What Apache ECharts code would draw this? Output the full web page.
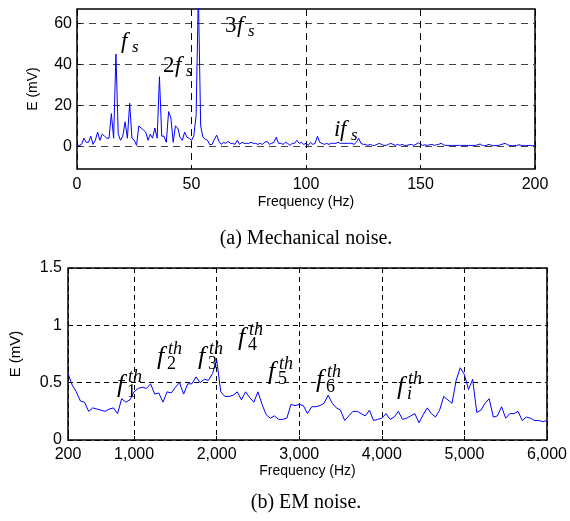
<!DOCTYPE html>
<html><head><meta charset="utf-8">
<script src="https://cdn.jsdelivr.net/npm/echarts@6/dist/echarts.min.js"></script>
<style>html,body{margin:0;padding:0;background:#fff}#c{width:570px;height:521px}</style>
</head><body><div id="c"></div>
<script>
// ---- (a) Mechanical noise: 1 Hz spectrum from 0 to 200 Hz ----
const mechFreqStart = 0;
const mechFreqStep = 1;
const mechValues = [
  0.5, 0.5, 1, 4, 2, 2, 5, 1, 3, 7,
  3, 6, 5, 4, 4, 16, 4, 45, 6, 3,
  5, 12, 4, 21, 4, 3, 0.5, 10, 9, 8,
  7, 3, 6, 4, 9, 4, 34, 5, 5, 2,
  17, 14, 2, 10, 9, 4.5, 3, 7, 4.5, 4,
  3, 5, 15, 75, 10, 4.5, 3.5, 3, 0.8, 1,
  3.5, 5.5, 2.5, 1, 2, 1.5, 2.5, 1.5, 1.5, 1,
  3, 1, 2, 1.5, 1.5, 1.5, 2, 1.5, 1.5, 1,
  1.5, 1, 2, 2.5, 1, 1.5, 2, 4.5, 1.5, 1.5,
  1, 2, 1.5, 0.5, 1.5, 1.5, 3, 1.5, 2, 1,
  1.5, 0.5, 2, 1, 1.5, 5, 2, 1.5, 1, 1.5,
  1, 1.5, 1.5, 1.5, 2, 1.5, 1.5, 1.5, 1.5, 1.5,
  1.5, 1, 2, 4, 1.5, 1, 1, 0.5, 1, 0.5,
  0.5, 1, 1.5, 1, 0.5, 0.5, 1, 1.5, 1, 0.5,
  1, 0.5, 1, 0.5, 0.5, 0.8, 1, 0.5, 1, 1.8,
  1, 0.5, 0.8, 0.5, 0.8, 1, 0.5, 0.8, 1, 1.6,
  0.8, 0.5, 0.5, 0.5, 0.5, 0.5, 0.5, 0.5, 0.5, 0.5,
  0.5, 0.5, 0.5, 0.5, 0.5, 0.8, 1.2, 0.5, 0.3, 0.6,
  1, 0.5, 0.3, 0.5, 0.5, 0.8, 1.2, 1.5, 0.8, 0.5,
  0.3, 0.5, 0.5, 0.8, 0.5, 0.5, 0.3, 0.5, 0.5, 0.3, 0.5
];
const mechXTicks = [0, 50, 100, 150, 200];
const mechYTicks = [0, 20, 40, 60];
const mechYRange = [-11, 67];

// ---- (b) EM noise: 50 Hz steps from 200 to 6000 Hz ----
const emFreqStart = 200;
const emFreqStep = 50;
const emValues = [
  0.58, 0.48, 0.42, 0.34, 0.33, 0.25, 0.28, 0.27, 0.26, 0.25, 0.27, 0.28, 0.23, 0.36, 0.33, 0.35, 0.42,
  0.45, 0.46, 0.45, 0.49, 0.40, 0.41, 0.33, 0.42, 0.41, 0.46, 0.50, 0.40, 0.49, 0.49, 0.55, 0.50, 0.53, 0.52, 0.58, 0.70,
  0.42, 0.38, 0.38, 0.39, 0.42, 0.35, 0.42, 0.37, 0.33, 0.42, 0.31, 0.22, 0.19, 0.21, 0.18, 0.18, 0.19, 0.31, 0.30, 0.31,
  0.30, 0.23, 0.29, 0.29, 0.30, 0.32, 0.39, 0.32, 0.28, 0.26, 0.17, 0.21, 0.25, 0.25, 0.23, 0.21, 0.26, 0.17, 0.18, 0.19,
  0.23, 0.18, 0.20, 0.25, 0.18, 0.19, 0.21, 0.23, 0.15, 0.22, 0.28, 0.23, 0.20, 0.26, 0.38, 0.35, 0.32, 0.52, 0.63, 0.57,
  0.44, 0.53, 0.24, 0.26, 0.32, 0.36, 0.20, 0.21, 0.29, 0.19, 0.23, 0.23, 0.25, 0.17, 0.20, 0.19, 0.17, 0.17, 0.16, 0.17
];
const emXTicks = [200, 1000, 2000, 3000, 4000, 5000, 6000];
const emYTicks = [0, 0.5, 1, 1.5];

// ---- texts ----
const yName = 'E (mV)';
const xName = 'Frequency (Hz)';
const captionA = '(a) Mechanical noise.';
const captionB = '(b) EM noise.';

const mechData = mechValues.map((v, i) => [mechFreqStart + i * mechFreqStep, v]);
const emData = emValues.map((v, i) => [emFreqStart + i * emFreqStep, v]);

const SANS = '"Liberation Sans", Arial, sans-serif';
const SERIF = '"Liberation Serif", "Times New Roman", serif';

function txt(x, y, text, font) {
  return { type: 'text', x: x, y: y, z: 100,
    style: { text: text, font: font, fill: '#000', textAlign: 'left', textVerticalAlign: 'middle', verticalAlign: 'middle' } };
}
// annotation: prefix (upright or italic), main italic f, subscript, superscript
function ann(x, y, opts) {
  const big = opts.big, small = opts.small;
  const kids = [];
  let cx = x;
  if (opts.pre) { kids.push(txt(cx, y, opts.pre, (opts.preItalic ? 'italic ' : '') + big + 'px ' + SERIF)); cx += opts.preW; }
  kids.push(txt(cx, y, 'f', 'italic ' + big + 'px ' + SERIF));
  const sx = cx + opts.fW;
  if (opts.sub) kids.push(txt(sx, y + opts.subDy, opts.sub, (opts.subItalic ? 'italic ' : '') + small + 'px ' + SERIF));
  if (opts.sup) kids.push(txt(sx + 1, y + opts.supDy, opts.sup, 'italic ' + small + 'px ' + SERIF));
  return kids;
}

const topAnn = { big: 23, small: 17, fW: 11, subDy: 6 };
const botAnn = { big: 26, small: 18, fW: 10, subDy: 7, supDy: -8, subItalic: false };

let graphics = [];
graphics = graphics.concat(
  ann(121, 42, Object.assign({}, topAnn, { sub: 's', subItalic: true })),
  ann(163, 66, Object.assign({}, topAnn, { pre: '2', preW: 12, sub: 's', subItalic: true })),
  ann(225, 26, Object.assign({}, topAnn, { pre: '3', preW: 12, sub: 's', subItalic: true })),
  ann(334, 130, Object.assign({}, topAnn, { pre: 'i', preW: 6, preItalic: true, sub: 's', subItalic: true })),
  ann(117, 385, Object.assign({}, botAnn, { sub: '1', sup: 'th' })),
  ann(157, 357, Object.assign({}, botAnn, { sub: '2', sup: 'th' })),
  ann(198, 357, Object.assign({}, botAnn, { sub: '3', sup: 'th' })),
  ann(238, 338, Object.assign({}, botAnn, { sub: '4', sup: 'th' })),
  ann(268, 372, Object.assign({}, botAnn, { sub: '5', sup: 'th' })),
  ann(316, 380, Object.assign({}, botAnn, { sub: '6', sup: 'th' })),
  ann(397, 387, Object.assign({}, botAnn, { sub: 'i', subItalic: true, sup: 'th' }))
);
graphics.push({ type: 'text', x: 306, y: 239, style: { text: captionA, font: '20px ' + SERIF, fill: '#000', textAlign: 'center', textVerticalAlign: 'middle', verticalAlign: 'middle' } });
graphics.push({ type: 'text', x: 306, y: 503, style: { text: captionB, font: '20px ' + SERIF, fill: '#000', textAlign: 'center', textVerticalAlign: 'middle', verticalAlign: 'middle' } });

const labelFont = { color: '#000', fontFamily: SANS, fontSize: 16 };
const nameFont = { color: '#000', fontFamily: SANS, fontSize: 14 };

const chart = echarts.init(document.getElementById('c'), null, { renderer: 'canvas' });
chart.setOption({
  animation: false,
  backgroundColor: '#fff',
  grid: [
    { left: 77, top: 9, width: 458, height: 160, show: true, borderColor: '#000', borderWidth: 1.5, backgroundColor: 'transparent' },
    { left: 68, top: 268, width: 479, height: 172, show: true, borderColor: '#000', borderWidth: 1.5, backgroundColor: 'transparent' }
  ],
  xAxis: [
    { type: 'value', gridIndex: 0, min: 0, max: 200, interval: 50,
      name: xName, nameLocation: 'middle', nameGap: 26, nameTextStyle: nameFont,
      axisLine: { show: false, onZero: false },
      axisTick: { show: true, inside: true, length: 4, lineStyle: { color: '#000' } },
      axisLabel: Object.assign({ margin: 8 }, labelFont),
      splitLine: { show: true, lineStyle: { color: '#000', type: [7, 5], width: 1 } } },
    { type: 'value', gridIndex: 1, min: 200, max: 6000,
      name: xName, nameLocation: 'middle', nameGap: 24, nameTextStyle: nameFont,
      axisLine: { show: false, onZero: false },
      axisTick: { show: true, inside: true, length: 4, lineStyle: { color: '#000' }, customValues: emXTicks },
      axisLabel: Object.assign({ margin: 7, customValues: emXTicks, formatter: v => Number(v).toLocaleString('en-US') }, labelFont),
      splitLine: { show: true, lineStyle: { color: '#000', type: [5, 4], width: 1 } } }
  ],
  yAxis: [
    { type: 'value', gridIndex: 0, min: mechYRange[0], max: mechYRange[1],
      name: yName, nameLocation: 'middle', nameGap: 37, nameTextStyle: nameFont,
      axisLine: { show: false, onZero: false },
      axisTick: { show: true, inside: true, length: 4, lineStyle: { color: '#000' }, customValues: mechYTicks },
      axisLabel: Object.assign({ margin: 5, customValues: mechYTicks }, labelFont),
      splitLine: { show: true, lineStyle: { color: '#444', type: [7, 5], width: 1.2 } } },
    { type: 'value', gridIndex: 1, min: 0, max: 1.5, interval: 0.5,
      name: yName, nameLocation: 'middle', nameGap: 45, nameTextStyle: Object.assign({}, nameFont, { fontSize: 15 }),
      axisLine: { show: false, onZero: false },
      axisTick: { show: true, inside: true, length: 4, lineStyle: { color: '#000' } },
      axisLabel: Object.assign({ margin: 6 }, labelFont),
      splitLine: { show: true, lineStyle: { color: '#000', type: [5, 4], width: 1 } } }
  ],
  series: [
    { type: 'line', xAxisIndex: 0, yAxisIndex: 0, data: mechData, showSymbol: false, symbol: 'none', clip: true,
      lineStyle: { color: '#0000ff', width: 1 }, z: 5 },
    { type: 'line', xAxisIndex: 1, yAxisIndex: 1, data: emData, showSymbol: false, symbol: 'none', clip: true,
      lineStyle: { color: '#0000ff', width: 1 }, z: 5 }
  ],
  graphic: { elements: graphics }
});
</script>
</body></html>
